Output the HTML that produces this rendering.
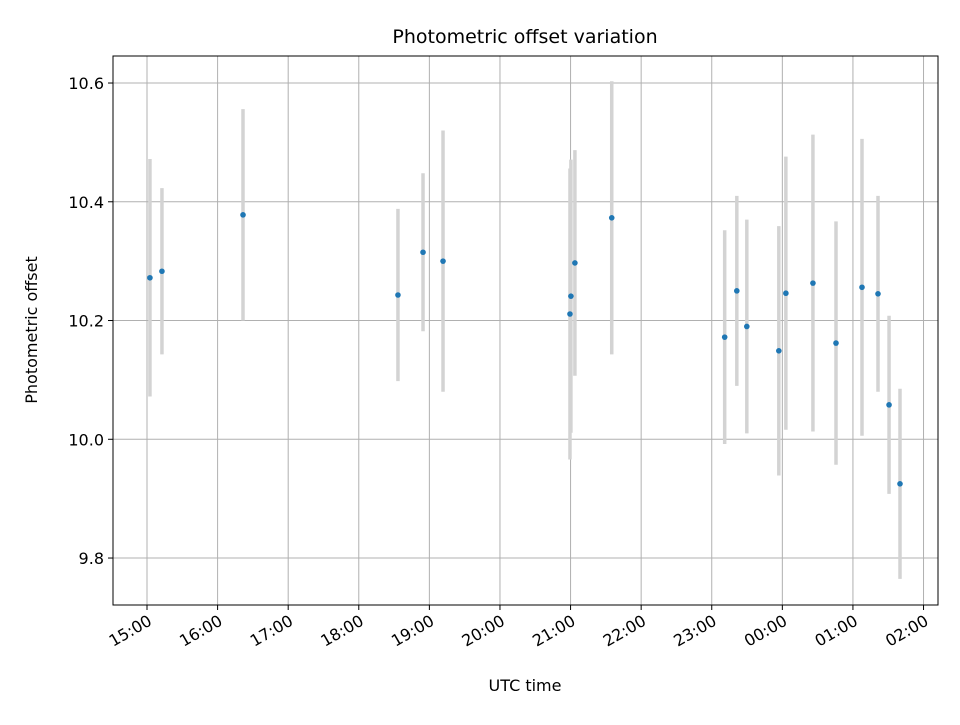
<!DOCTYPE html>
<html><head><meta charset="utf-8"><style>
body{margin:0;background:#fff;}
svg text{font-family:"DejaVu Sans","Liberation Sans",sans-serif;fill:#000;}
</style></head><body>
<svg id="chart" width="960" height="720" viewBox="0 0 960 720">
<rect width="960" height="720" fill="#fff"/>
<g id="grid"></g>
<g id="bars"></g>
<g id="pts"></g>
<rect x="113" y="56" width="825" height="549" fill="none" stroke="#000" stroke-width="1"/>
<g id="axes"></g>
<text x="525" y="43" font-size="19" text-anchor="middle">Photometric offset variation</text>
<text x="525" y="691" font-size="16" text-anchor="middle">UTC time</text>
<text x="37" y="330" font-size="16" text-anchor="middle" transform="rotate(-90 37 330)">Photometric offset</text>
</svg>
<script>
// minutes after 15:00 UTC
const times=[2.5,12.7,81.6,213.3,234.6,251.6,359.5,360.3,363.7,395,491,501.3,509.8,537,543,566,585.6,607.7,621.3,630.7,640];
const values=[10.272,10.283,10.378,10.243,10.315,10.300,10.211,10.241,10.297,10.373,10.172,10.250,10.190,10.149,10.246,10.263,10.162,10.256,10.245,10.058,9.925];
const errors=[0.20,0.14,0.178,0.145,0.133,0.22,0.245,0.23,0.19,0.23,0.18,0.16,0.18,0.21,0.23,0.25,0.205,0.25,0.165,0.15,0.16];
const xTickLabels=["15:00","16:00","17:00","18:00","19:00","20:00","21:00","22:00","23:00","00:00","01:00","02:00"];
const yTicks=[9.8,10.0,10.2,10.4,10.6];
const NS="http://www.w3.org/2000/svg";
const X0=113,X1=938,Y0=56,Y1=605,XMIN=-28.9,XMAX=672.3,YMIN=9.7209,YMAX=10.6455;
const sx=m=>X0+(m-XMIN)/(XMAX-XMIN)*(X1-X0);
const sy=v=>Y1-(v-YMIN)/(YMAX-YMIN)*(Y1-Y0);
function mk(tag,attrs,parent){const e=document.createElementNS(NS,tag);for(const k in attrs)e.setAttribute(k,attrs[k]);parent.appendChild(e);return e;}
const grid=document.getElementById('grid'),axes=document.getElementById('axes'),bars=document.getElementById('bars'),pts=document.getElementById('pts');
xTickLabels.forEach((lab,i)=>{
  const x=sx(i*60);
  const g=mk('line',{x1:x,x2:x,y1:Y0,y2:Y1,stroke:'#b0b0b0','stroke-width':1},grid);
  
  
  const t=mk('line',{x1:x,x2:x,y1:Y1,y2:Y1+5,stroke:'#000','stroke-width':1},axes);
  
  
  const tx=mk('text',{x:x+6,y:Y1+19,'font-size':16,'text-anchor':'end',transform:`rotate(-30 ${x+6} ${Y1+19})`},axes);
  tx.textContent=lab;
  
  
});
yTicks.forEach(v=>{
  const y=sy(v);
  const g=mk('line',{x1:X0,x2:X1,y1:y,y2:y,stroke:'#b0b0b0','stroke-width':1},grid);
  
  
  const t=mk('line',{x1:X0-5,x2:X0,y1:y,y2:y,stroke:'#000','stroke-width':1},axes);
  
  
  const tx=mk('text',{x:X0-9,y:y+6,'font-size':16,'text-anchor':'end'},axes);
  tx.textContent=v.toFixed(1);
  
  
});
times.forEach((m,i)=>{
  const x=sx(m);
  const b=mk('line',{x1:x,x2:x,y1:sy(values[i]+errors[i]),y2:sy(values[i]-errors[i]),stroke:'#d3d3d3','stroke-width':3.5},bars);
  
  
  const c=mk('circle',{cx:x,cy:sy(values[i]),r:2.8,fill:'#1f77b4'},pts);
  
  
});
</script>
</body></html>
